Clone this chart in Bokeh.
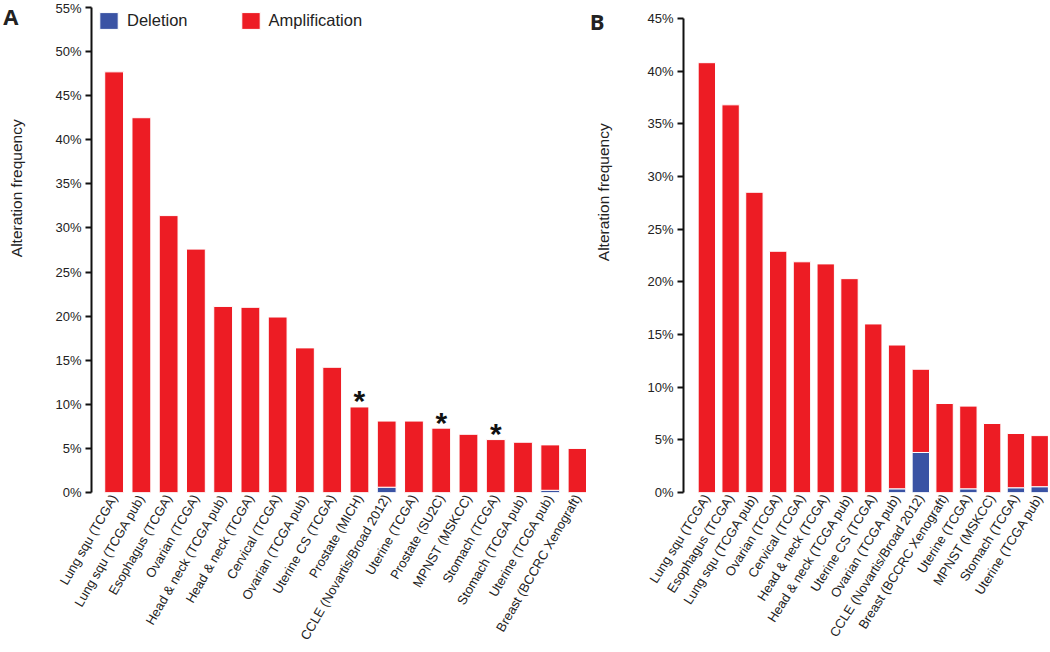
import math
from bokeh.plotting import figure
from bokeh.models import (Range1d, FixedTicker, PrintfTickFormatter, ColumnDataSource,
                          LinearAxis)
from bokeh.layouts import row
from bokeh.embed import file_html
from bokeh.resources import INLINE
from bokeh.core.properties import value

# ---------------- data ----------------
studies_a = ["Lung squ (TCGA)", "Lung squ (TCGA pub)", "Esophagus (TCGA)", "Ovarian (TCGA)",
             "Head & neck (TCGA pub)", "Head & neck (TCGA)", "Cervical (TCGA)",
             "Ovarian (TCGA pub)", "Uterine CS (TCGA)", "Prostate (MICH)",
             "CCLE (Novartis/Broad 2012)", "Uterine (TCGA)", "Prostate (SU2C)",
             "MPNST (MSKCC)", "Stomach (TCGA)", "Stomach (TCGA pub)", "Uterine (TCGA pub)",
             "Breast (BCCRC Xenograft)"]
deletion_a = [0, 0, 0, 0, 0, 0, 0, 0, 0, 0, 0.6, 0, 0, 0, 0, 0, 0.25, 0]
amplification_a = [47.7, 42.5, 31.4, 27.6, 21.1, 21.0, 19.9, 16.4, 14.2, 9.7, 7.5, 8.1,
                   7.3, 6.6, 6.0, 5.7, 5.15, 5.0]
starred_a = ["Prostate (MICH)", "Prostate (SU2C)", "Stomach (TCGA)"]

studies_b = ["Lung squ (TCGA)", "Esophagus (TCGA)", "Lung squ (TCGA pub)", "Ovarian (TCGA)",
             "Cervical (TCGA)", "Head & neck (TCGA)", "Head & neck (TCGA pub)",
             "Uterine CS (TCGA)", "Ovarian (TCGA pub)", "CCLE (Novartis/Broad 2012)",
             "Breast (BCCRC Xenograft)", "Uterine (TCGA)", "MPNST (MSKCC)",
             "Stomach (TCGA)", "Uterine (TCGA pub)"]
deletion_b = [0, 0, 0, 0, 0, 0, 0, 0, 0.35, 3.8, 0, 0.35, 0, 0.45, 0.55]
amplification_b = [40.8, 36.8, 28.5, 22.9, 21.9, 21.7, 20.3, 16.0, 13.65, 7.9, 8.45, 7.85,
                   6.55, 5.15, 4.85]

series_names = ["Deletion", "Amplification"]
y_ticks_a = list(range(0, 56, 5))
y_ticks_b = list(range(0, 46, 5))
y_title = "Alteration frequency"

# ---------------- style ----------------
RED = "#ED1C24"
BLUE = "#3A53A4"
FONT = "Liberation Sans"
TXT = "#222222"


def panel(names, dele, ampl, yticks, y_top, width, height, b_left, b_top, b_bottom,
          x_start, x_end, bar_w, lab_size, lab_angle):
    p = figure(width=width, height=height, output_backend="svg", toolbar_location=None,
               x_range=Range1d(x_start, x_end), y_range=Range1d(0, y_top),
               min_border_left=b_left, min_border_right=0, min_border_top=b_top,
               min_border_bottom=b_bottom)
    p.outline_line_color = None
    p.grid.visible = False
    src = ColumnDataSource(dict(x=list(range(len(names))), deletion=dele, amplification=ampl))
    p.vbar_stack(["deletion", "amplification"], x="x", width=bar_w, source=src,
                 fill_color=[BLUE, RED], line_color="white", line_width=1,
                 legend_label=series_names)
    xa = p.xaxis[0]
    xa.ticker = FixedTicker(ticks=list(range(len(names))))
    xa.major_label_overrides = {i: n for i, n in enumerate(names)}
    xa.major_label_orientation = lab_angle
    xa.major_label_text_font = FONT
    xa.major_label_text_font_size = lab_size
    xa.major_label_text_color = TXT
    xa.major_label_standoff = 3
    xa.axis_line_color = None
    xa.major_tick_line_color = None
    xa.minor_tick_line_color = None
    xa.major_tick_out = 0
    xa.major_tick_in = 0
    xa.minor_tick_out = 0

    ya = p.yaxis[0]
    ya.ticker = FixedTicker(ticks=yticks)
    ya.bounds = (0, yticks[-1])
    ya.formatter = PrintfTickFormatter(format="%d%%")
    ya.axis_line_width = 2
    ya.axis_line_color = "#111111"
    ya.major_tick_line_width = 2
    ya.major_tick_line_color = "#111111"
    ya.major_tick_out = 6
    ya.major_tick_in = 0
    ya.minor_tick_line_color = None
    ya.major_label_text_font = FONT
    ya.major_label_text_font_size = "13px"
    ya.major_label_text_color = TXT
    ya.major_label_standoff = 4
    return p


def text_axis(p, y, text, font, size, style, standoff, orientation):
    ax = LinearAxis(ticker=FixedTicker(ticks=[y]), major_label_overrides={y: text},
                    axis_line_color=None, major_tick_line_color=None,
                    minor_tick_line_color=None, major_tick_out=0, major_tick_in=0,
                    minor_tick_out=0, minor_tick_in=0, major_label_standoff=standoff,
                    major_label_orientation=orientation, major_label_text_font=font,
                    major_label_text_font_size=size, major_label_text_font_style=style,
                    major_label_text_color=TXT)
    p.add_layout(ax, "left")


# Panel A
pa = panel(studies_a, deletion_a, amplification_a, y_ticks_a, 55, 586, 650, 83, 7, 158,
           -0.830, 17.33, 0.69, "13px", 1.047)
leg = pa.legend[0]
leg.orientation = "horizontal"
leg.location = (6, 461)
leg.glyph_width = 23
leg.glyph_height = 21
leg.label_text_font = FONT
leg.label_text_font_size = "16.5px"
leg.label_text_color = TXT
leg.label_standoff = 7
leg.spacing = 51
leg.padding = 0
leg.margin = 0
leg.border_line_color = None
leg.background_fill_alpha = 0

star_x = [studies_a.index(s) for s in starred_a]
star_y = [deletion_a[i] + amplification_a[i] for i in star_x]
pa.text(x=star_x, y=star_y, text=["*"] * len(star_x), text_font=value(FONT),
        text_font_size="30px", text_font_style="bold", text_align="center",
        text_baseline="alphabetic", y_offset=-6, text_color="#111111")

text_axis(pa, 34.5, y_title, FONT, "15.5px", "normal", 27, "parallel")
text_axis(pa, 54.2, "A", "Open Sans", "22px", "bold", -13, "horizontal")

# Panel B
pb = panel(studies_b, deletion_b, amplification_b, y_ticks_b, 46.04, 462, 650, 87, 7, 158,
           -0.982, 14.37, 0.73, "13px", 1.01)
pb.legend[0].visible = False
text_axis(pb, 28.5, y_title, FONT, "15.5px", "normal", 32, "parallel")
text_axis(pb, 44.8, "B", "Open Sans", "22px", "bold", -12, "horizontal")

layout = row(pa, pb, spacing=0)
open("out.html", "w").write(file_html(layout, INLINE))
